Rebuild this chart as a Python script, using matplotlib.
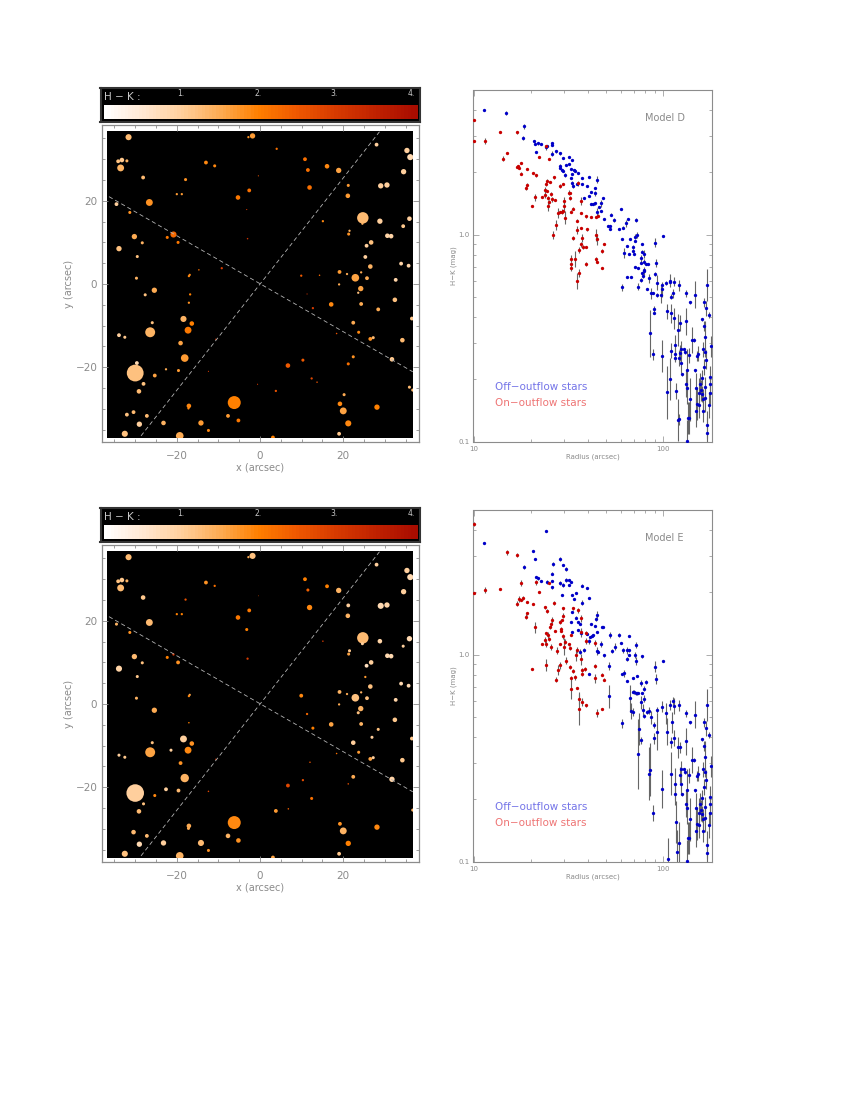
import numpy as np
import matplotlib
matplotlib.use("Agg")
import matplotlib.pyplot as plt
from matplotlib.colors import LinearSegmentedColormap
from matplotlib.patches import Rectangle
from matplotlib.ticker import FixedLocator, NullFormatter, FixedFormatter

# ---- star map data (arcsec), brightness-radius index and H-K colour for both models
star_x = [-31.6,-1.8,-2.8,4.0,10.8,-34.1,-33.2,-32.0,-33.5,-13.0,
          -10.9,11.5,16.1,18.9,28.0,35.3,36.1,34.5,-28.1,-17.9,
          -0.4,-2.6,11.9,21.2,29.0,30.5,-20.0,-18.8,-5.3,21.1,
          -34.5,-26.6,-3.2,-31.3,24.7,24.6,28.8,35.9,34.4,15.1,
          -20.8,-22.3,-19.7,-30.2,-28.3,-33.9,-29.5,-3.0,21.5,21.3,
          30.6,31.5,26.7,25.6,25.3,26.5,33.9,35.7,-9.2,-14.7,
          -29.7,-16.9,-17.1,-25.4,-27.6,-16.8,-17.1,-18.4,-25.9,-16.4,
          -17.3,-26.4,-33.9,-32.5,-21.4,-19.1,-10.6,-18.1,-29.6,-22.6,
          -19.6,-30.0,-25.3,-28.0,-29.1,-12.4,-17.1,-17.2,-6.2,-30.4,
          -32.0,-27.2,-7.7,-5.2,-29.0,-23.2,-14.2,-12.4,-32.5,-19.3,
          3.1,19.0,21.2,20.0,19.2,28.1,20.2,3.8,6.8,-0.6,
          6.7,10.3,12.4,13.7,21.2,22.4,31.7,35.9,36.7,26.5,
          27.2,34.2,23.7,22.4,36.5,28.4,26.9,32.4,24.3,17.1,
          24.2,23.6,22.9,19.0,19.1,20.9,24.3,25.7,32.6,9.9,
          14.3,12.7,11.3,18.4,12.0]
star_y = [35.3,35.6,35.3,32.5,30.0,29.5,29.8,29.6,27.9,29.2,
          28.4,27.4,28.3,27.3,33.5,32.1,30.5,27.0,25.6,25.1,
          26.0,22.5,23.2,23.7,23.6,23.8,21.6,21.6,20.8,21.2,
          19.2,19.6,17.9,17.2,15.9,14.5,15.1,15.7,13.9,15.1,
          11.9,11.2,10.0,11.4,9.9,8.5,6.6,10.9,12.8,12.0,
          11.6,11.5,10.0,9.2,6.5,4.2,4.9,4.4,3.8,3.4,
          1.4,2.2,1.9,-1.5,-2.6,-2.5,-4.5,-8.4,-9.3,-9.5,
          -11.1,-11.6,-12.3,-12.8,-11.1,-14.2,-13.3,-17.8,-19.0,-20.5,
          -20.8,-21.4,-22.0,-24.0,-25.8,-21.0,-29.3,-29.9,-28.5,-30.8,
          -31.4,-31.7,-31.7,-32.8,-33.7,-33.4,-33.4,-35.2,-36.0,-36.5,
          -36.9,-36.0,-33.5,-30.5,-28.8,-29.6,-26.6,-25.7,-25.2,-24.1,
          -19.6,-18.3,-22.7,-23.6,-19.2,-17.5,-18.1,-24.8,-25.5,-13.2,
          -12.9,-13.5,-11.6,-9.3,-8.3,-6.1,-8.0,-3.8,-4.8,-4.9,
          -1.1,-2.1,1.5,-0.1,2.9,2.4,2.8,1.4,1.0,2.0,
          2.1,-5.8,-2.4,-11.9,-14.0]
star_flux_d = [8,7,3,3,5,5,6,4,9,5,
               4,5,6,7,5,7,8,7,5,4,
               1.5,5,6,4,7,7,3,3,6,6,
               5,9,1.5,4,15,3,7,6,5,3,
               8,4,4,7,4,7,4,2,3,4,
               6,6,6,5,5,6,5,5,3,2,
               4,3,3,7,4,3,3,8,4,6,
               9,13,5,4,0,6,2,10,5,3,
               4,22,5,5,6,1.5,6,3,17,5,
               5,5,5,5,7,6,7,4,8,10,
               5,5,8,9,6,7,4,3,0,1.5,
               6,4,3,2,4,4,6,4,4,5,
               4,6,4,5,5,5,0,6,5,6,
               7,3,10,3,5,3,3,5,5,3,
               2,3,1.5,2,0]
star_hk_d = [1.3,1.7,1.8,2.2,2.2,1.2,1.1,1.4,1.4,1.9,
             1.9,2.2,1.9,1.6,1.0,1.0,0.8,1.0,1.3,1.8,
             2.6,2.2,2.2,1.7,1.0,1.0,1.7,1.7,2.1,1.7,
             1.0,1.8,3.0,1.8,1.3,1.4,1.0,1.0,1.1,1.9,
             2.3,2.1,2.1,1.5,1.4,1.2,1.2,3.2,1.4,1.8,
             0.9,0.9,1.2,1.0,1.0,1.4,0.9,0.9,3.0,2.2,
             1.4,1.9,1.9,1.5,1.2,2.0,1.8,1.4,1.2,2.0,
             2.1,1.4,1.0,1.1,1.0,1.6,3.0,1.7,0.8,1.5,
             1.7,1.2,1.6,1.2,1.3,3.0,1.9,1.9,2.0,1.3,
             1.2,1.3,1.7,2.1,1.0,1.4,1.7,1.9,1.2,1.5,
             2.0,1.1,1.9,1.6,1.9,2.0,1.5,2.6,2.4,3.0,
             2.5,2.5,2.8,2.6,2.2,1.8,1.1,1.3,1.3,1.8,
             1.3,1.3,1.9,1.5,1.1,1.5,1.0,1.2,1.5,1.9,
             1.6,1.2,1.6,1.5,1.7,1.5,1.5,1.5,0.9,2.5,
             2.3,3.0,3.2,2.6,2.6]
star_flux_e = [8,8,3,0,5,5,6,4,9,5,
               3,4,5,7,5,7,8,7,6,3,
               1,5,7,5,8,7,3,3,6,6,
               4,9,4,4,15,4,6,7,4,2,
               3,4,5,7,4,8,4,3,4,4,
               6,6,6,5,3,6,5,5,0,0,
               4,3,3,7,0,0,2,9,4,6,
               9,13,4,4,4,5,2,11,0,5,
               5,23,4,4,6,2,6,4,17,6,
               0,5,6,6,7,7,8,4,8,10,
               5,5,7,9,5,7,0,5,2,0,
               5,3,4,0,2,5,7,0,4,5,
               4,6,4,6,5,4,4,6,5,6,
               7,4,10,3,5,3,3,5,5,5,
               0,4,3,2,2]
star_hk_e = [1.3,1.2,1.5,2.2,2.0,1.2,1.1,1.4,1.3,1.8,
             2.2,2.4,2.0,1.4,1.0,1.0,0.8,1.0,1.1,2.6,
             2.6,2.1,1.9,1.0,0.8,0.9,2.0,2.0,2.1,1.4,
             1.4,1.3,2.0,1.8,1.3,1.0,0.9,0.8,1.0,3.0,
             3.2,2.0,1.8,1.3,1.2,0.9,1.1,3.0,1.1,1.6,
             0.8,0.8,1.0,0.7,1.7,1.2,0.8,0.8,3.0,2.2,
             1.4,1.6,1.9,1.5,1.2,2.0,2.0,1.0,1.2,1.8,
             1.9,1.6,1.0,1.1,1.0,1.8,3.0,1.4,0.8,1.0,
             1.3,1.0,1.9,1.2,1.3,2.8,1.5,1.5,1.9,1.3,
             1.2,1.3,1.4,1.8,0.8,1.0,1.3,1.8,1.2,1.4,
             1.6,1.1,2.0,1.4,1.8,1.9,1.5,1.7,2.4,3.0,
             2.8,2.7,2.2,2.6,2.6,1.5,0.9,1.3,1.4,1.6,
             1.0,1.1,1.7,1.0,1.1,1.2,1.0,1.1,1.4,1.6,
             1.4,1.2,1.2,1.5,1.4,1.5,1.4,1.2,0.9,1.9,
             2.3,2.0,2.3,2.2,2.6]

outflow_a_x = [-36.3, 36.7]
outflow_a_y = [21.0, -21.1]
outflow_b_x = [-28.6, 28.7]
outflow_b_y = [-36.5, 36.6]

# ---- radial profile data, log10(radius), log10(H-K), error in dex
far_logr = [2.117,2.139,2.167,2.232,2.084,2.212,2.226,2.240,2.202,2.119,
            2.095,2.149,2.160,2.216,2.219,2.109,2.116,2.133,2.253,2.211,
            2.184,2.179,2.216,2.098,2.123,2.167,2.119,2.123,2.174,2.193,
            2.246,2.202,2.246,2.221,2.196,2.188,2.140,2.205,2.246,2.221,
            2.207,2.175,2.188,2.130,2.135,2.172,2.209,2.126,2.230,2.230,
            2.242,2.218,2.225]
far_logh = [-.284,-.327,-.290,-.245,-.245,-.327,-.356,-.388,-.409,-.419,
            -.551,-.509,-.509,-.441,-.493,-.554,-.567,-.583,-.538,-.554,
            -.574,-.586,-.638,-.675,-.654,-.656,-.719,-.743,-.743,-.719,
            -.719,-.690,-.686,-.738,-.751,-.767,-.796,-.770,-.767,-.791,
            -.796,-.820,-.822,-.886,-.886,-.852,-.852,-.999,-.918,-.959,
            -.823,-.567,-.603]
far_err = [.016,.008,.064,.077,.026,.021,.037,.016,.008,.064,
           .038,.064,.008,.026,.077,.008,.008,.038,.051,.037,
           .038,.026,.038,.008,.102,.008,.064,.077,.077,.051,
           .038,.038,.051,.051,.051,.077,.102,.038,.051,.064,
           .051,.077,.064,.077,.077,.077,.051,.102,.064,.077,
           .064,.026,.046]

off_d_logr = [1.055,1.171,1.266,1.259,1.317,1.322,1.340,1.354,1.382,1.385,
              1.412,1.415,1.329,1.415,1.436,1.457,1.471,1.503,1.520,1.489,
              1.505,1.457,1.454,1.466,1.471,1.484,1.512,1.529,1.536,1.550,
              1.520,1.515,1.571,1.610,1.652,1.519,1.522,1.547,1.570,1.596,
              1.642,1.617,1.642,1.610,1.682,1.582,1.619,1.628,1.642,1.670,
              1.659,1.673,1.649,1.775,1.726,1.687,1.742,1.814,1.856,1.710,
              1.721,1.719,1.765,1.789,1.805,1.859,1.852,1.780,1.826,1.849,
              1.842,1.808,1.889,1.958,2.000,1.842,1.847,1.794,1.819,1.887,
              1.900,1.884,1.898,1.909,1.919,1.961,1.880,1.851,1.866,1.896,
              1.889,1.958,1.782,1.808,1.830,1.868,1.884,1.891,1.898,1.924,
              1.912,1.933,1.944,1.968,1.966,1.989,1.995,1.995,2.014,2.035,
              2.037,2.040,2.049,2.056,1.952,1.951,2.021,2.042,2.054,1.931,
              1.947,1.991,2.086,2.077,2.063,2.042,2.088,2.060,2.063,2.082,
              2.091,2.035,2.021,2.067,2.075,2.081]
off_d_logh = [.601,.586,.524,.469,.453,.437,.441,.437,.422,.429,
              .433,.441,.398,.392,.403,.393,.372,.374,.359,.337,
              .340,.332,.321,.313,.306,.288,.317,.314,.309,.297,
              .293,.272,.274,.277,.266,.248,.235,.247,.247,.235,
              .224,.208,.200,.188,.177,.176,.148,.148,.151,.151,
              .132,.114,.110,.122,.097,.076,.069,.076,.071,.043,
              .043,.026,.027,.034,.055,-.001,-.009,-.022,-.022,-.030,
              -.058,-.055,-.045,-.038,-.006,-.077,-.092,-.089,-.093,-.082,
              -.092,-.114,-.130,-.142,-.142,-.137,-.137,-.156,-.163,-.171,
              -.187,-.190,-.255,-.205,-.205,-.251,-.219,-.200,-.176,-.211,
              -.263,-.284,-.280,-.232,-.292,-.290,-.264,-.242,-.232,-.222,
              -.230,-.300,-.284,-.227,-.361,-.377,-.371,-.380,-.404,-.477,
              -.578,-.586,-.427,-.462,-.532,-.561,-.572,-.578,-.595,-.596,
              -.619,-.698,-.762,-.754,-.894,-.891]
off_d_err = [.002,.01,.013,.01,.003,.003,.006,.003,.013,.006,
             .006,.005,.003,.01,.008,.006,.005,.005,.005,.005,
             .005,.008,.006,.005,.003,.01,.003,.005,.006,.003,
             .003,.005,.006,.003,.016,.01,.008,.005,.003,.003,
             .003,.005,.013,.005,.003,.005,.003,.003,.006,.019,
             .003,.003,.019,.003,.006,.006,.01,.005,.01,.006,
             .006,.005,.005,.008,.016,.013,.013,.005,.005,.005,
             .01,.005,.006,.023,.005,.006,.005,.024,.005,.006,
             .019,.016,.013,.005,.005,.019,.005,.005,.005,.006,
             .006,.01,.016,.005,.005,.016,.008,.008,.021,.021,
             .005,.026,.005,.037,.008,.042,.037,.008,.01,.03,
             .008,.013,.021,.021,.016,.008,.038,.046,.051,.115,
             .026,.077,.037,.077,.046,.037,.038,.037,.013,.038,
             .051,.102,.128,.038,.102,.026]

on_d_logr = [1.004,1.004,1.059,1.141,1.231,1.157,1.178,1.347,1.399,1.382,
             1.250,1.234,1.231,1.239,1.280,1.250,1.313,1.331,1.278,1.283,
             1.308,1.322,1.361,1.375,1.378,1.385,1.408,1.394,1.412,1.391,
             1.399,1.427,1.382,1.389,1.405,1.422,1.457,1.473,1.501,1.508,
             1.510,1.477,1.477,1.447,1.455,1.466,1.473,1.482,1.513,1.526,
             1.564,1.550,1.566,1.591,1.621,1.643,1.657,1.545,1.434,1.417,
             1.543,1.566,1.596,1.643,1.650,1.524,1.571,1.568,1.575,1.594,
             1.686,1.677,1.556,1.512,1.512,1.533,1.643,1.650,1.592,1.512,
             1.675,1.557,1.545]
on_d_logh = [.554,.453,.453,.496,.495,.367,.395,.374,.364,.427,
             .346,.332,.325,.321,.319,.295,.297,.287,.226,.242,
             .140,.180,.180,.192,.216,.210,.197,.179,.171,.140,
             .160,.169,.243,.261,.256,.277,.237,.243,.203,.200,
             .179,.163,.140,.106,.110,.111,.114,.082,.111,.126,
             .164,.248,.103,.089,.087,.087,.092,.068,.047,.000,
             .023,.032,.026,-.001,-.022,-.016,-.016,-.047,-.058,-.058,
             -.043,-.077,-.074,-.116,-.143,-.116,-.119,-.130,-.142,-.163,
             -.161,-.184,-.224]
on_d_err = [.002,.002,.016,.003,.008,.013,.003,.003,.003,.008,
            .003,.006,.005,.005,.003,.006,.003,.008,.011,.006,
            .003,.016,.003,.016,.013,.005,.008,.01,.013,.024,
            .01,.003,.01,.006,.003,.008,.01,.003,.013,.005,
            .01,.019,.019,.024,.005,.013,.006,.032,.008,.006,
            .019,.013,.005,.006,.003,.005,.008,.006,.024,.019,
            .019,.003,.008,.029,.026,.01,.019,.013,.01,.005,
            .005,.01,.016,.016,.013,.039,.013,.003,.01,.013,
            .003,.019,.04]

off_e_logr = [1.055,1.380,1.315,1.322,1.266,1.455,1.471,1.489,1.417,1.412,
              1.329,1.340,1.354,1.389,1.415,1.457,1.471,1.415,1.485,1.503,
              1.512,1.505,1.571,1.598,1.540,1.520,1.464,1.529,1.610,1.571,
              1.652,1.643,1.520,1.540,1.549,1.513,1.563,1.617,1.640,1.675,
              1.682,1.550,1.519,1.599,1.615,1.624,1.631,1.649,1.564,1.721,
              1.765,1.817,1.670,1.610,1.856,1.777,1.743,1.729,1.787,1.807,
              1.819,1.580,1.563,1.649,1.656,1.686,1.821,1.851,1.889,2.000,
              1.858,1.810,1.714,1.958,1.793,1.780,1.610,1.808,1.840,1.861,
              1.963,1.910,1.884,1.844,1.854,1.898,1.865,1.887,1.712,1.826,
              1.838,1.861,1.880,1.891,1.896,1.900,1.916,1.924,1.933,1.830,
              1.840,1.782,1.870,1.884,1.866,1.951,1.968,1.952,1.968,1.995,
              2.035,2.049,2.054,2.016,2.046,2.017,2.040,2.054,2.077,2.088,
              1.931,1.926,1.991,1.947,2.042,2.063,2.060,2.088,2.095,2.067,
              2.081,2.072,2.023]
off_e_logh = [.540,.599,.503,.461,.422,.462,.433,.414,.440,.392,
              .375,.369,.358,.351,.356,.346,.335,.325,.359,.359,
              .350,.335,.334,.322,.300,.287,.287,.267,.272,.251,
              .193,.174,.206,.179,.160,.158,.147,.147,.139,.135,
              .135,.119,.108,.098,.087,.092,.095,.111,.103,.095,
              .095,.092,.052,.064,.047,.058,.039,.018,.021,.021,
              .021,.024,.015,.018,.015,-.003,-.001,-.001,-.008,-.029,
              -.029,-.022,-.053,-.058,-.090,-.093,-.092,-.127,-.111,-.105,
              -.118,-.132,-.137,-.179,-.187,-.164,-.187,-.187,-.200,-.211,
              -.179,-.187,-.230,-.267,-.213,-.296,-.276,-.271,-.303,-.272,
              -.277,-.332,-.359,-.414,-.479,-.340,-.372,-.404,-.267,-.251,
              -.243,-.224,-.247,-.284,-.327,-.372,-.424,-.401,-.448,-.448,
              -.557,-.574,-.649,-.764,-.574,-.625,-.673,-.582,-.625,-.807,
              -.912,-.951,-.986]
off_e_err = [.002,.002,.002,.003,.01,.01,.003,.008,.01,.006,
             .005,.006,.003,.008,.005,.01,.01,.008,.01,.005,
             .005,.005,.008,.003,.003,.005,.003,.003,.005,.013,
             .016,.01,.003,.006,.003,.006,.005,.005,.003,.003,
             .003,.003,.005,.005,.003,.005,.003,.003,.019,.013,
             .01,.003,.016,.013,.016,.003,.016,.01,.013,.016,
             .006,.01,.013,.019,.006,.006,.005,.013,.006,.005,
             .019,.01,.019,.026,.016,.005,.005,.005,.005,.005,
             .023,.008,.016,.01,.006,.013,.005,.005,.056,.064,
             .008,.008,.03,.03,.016,.01,.01,.016,.03,.037,
             .021,.021,.077,.016,.168,.016,.09,.026,.016,.026,
             .026,.021,.038,.051,.051,.064,.026,.038,.051,.026,
             .128,.128,.09,.038,.102,.077,.051,.038,.051,.102,
             .102,.102,.102]

on_e_logr = [1.004,1.004,1.059,1.141,1.178,1.229,1.252,1.329,1.347,1.398,
             1.239,1.250,1.259,1.231,1.280,1.313,1.375,1.389,1.422,1.470,
             1.526,1.552,1.276,1.283,1.322,1.308,1.473,1.466,1.415,1.406,
             1.403,1.384,1.394,1.396,1.427,1.455,1.459,1.462,1.512,1.473,
             1.482,1.477,1.454,1.501,1.510,1.361,1.375,1.380,1.410,1.441,
             1.541,1.545,1.564,1.566,1.594,1.591,1.640,1.485,1.384,1.454,
             1.447,1.434,1.510,1.524,1.515,1.533,1.568,1.570,1.571,1.585,
             1.642,1.642,1.677,1.686,1.512,1.543,1.556,1.557,1.573,1.592,
             1.649,1.675]
on_e_logh = [.633,.297,.313,.317,.495,.480,.346,.350,.305,.346,
             .269,.264,.272,.247,.256,.243,.229,.211,.251,.224,
             .224,.214,.184,.200,.132,-.069,.188,.169,.168,.147,
             .132,.103,.095,.076,.114,.156,.124,.114,.095,.089,
             .063,.039,.052,.050,.034,.052,.071,.052,.037,.019,
             -.003,.023,.176,.111,.103,.066,.056,-.029,-.050,-.052,
             -.074,-.121,-.059,-.077,-.114,-.109,-.022,-.074,-.093,-.071,
             -.056,-.114,-.096,-.121,-.168,-.160,-.213,-.261,-.229,-.245,
             -.282,-.261]
on_e_err = [.01,.002,.016,.003,.013,.01,.013,.013,.003,.006,
            .013,.006,.01,.01,.003,.003,.008,.01,.01,.006,
            .008,.013,.011,.006,.026,.003,.013,.005,.013,.013,
            .006,.008,.013,.01,.003,.01,.008,.005,.003,.013,
            .013,.04,.006,.006,.01,.003,.013,.013,.013,.016,
            .026,.013,.016,.016,.01,.013,.013,.016,.029,.016,
            .026,.013,.01,.01,.013,.013,.026,.01,.01,.01,
            .01,.023,.006,.006,.048,.005,.024,.08,.019,.006,
            .019,.003]

cbar_ticks = [1, 2, 3, 4]
cbar_labels = ["1.", "2.", "3.", "4."]
model_names = ["Model D", "Model E"]

# ---- style
W, H = 850, 1100
GREY = "#8c8c8c"
TXT = "#8a8a8a"
hk_cmap = LinearSegmentedColormap.from_list("hk", [
    (0.00, "#ffffff"), (0.12, "#ffe8d2"), (0.245, "#ffcf9c"), (0.37, "#fdab52"),
    (0.49, "#ff8000"), (0.61, "#f05a00"), (0.735, "#d83c00"), (0.86, "#c22400"),
    (1.00, "#a80c00")], N=256)
HK_MAX = 4.08

fig = plt.figure(figsize=(W/100, H/100), dpi=100, facecolor="white")
plt.rcParams["font.family"] = "DejaVu Sans"


def axes_px(left, top, right, bottom, **kw):
    return fig.add_axes([left/W, 1-bottom/H, (right-left)/W, (bottom-top)/H], **kw)


def style_spines(ax, lw=0.9):
    for s in ax.spines.values():
        s.set_color(GREY)
        s.set_linewidth(lw)


def star_panel(dy, flux, hk):
    # colour bar box
    bx = axes_px(100.5, 87.8+dy, 420.2, 121.8+dy)
    bx.set_facecolor("black")
    bx.set_xticks([]); bx.set_yticks([])
    for s in bx.spines.values():
        s.set_color("#333333"); s.set_linewidth(1.5)
    bx.set_xlim(100, 420.7); bx.set_ylim(122.3, 87.3)
    bx.text(104, 96.5, "H \u2212 K :", color="#c8c8c8", fontsize=7.5, va="center", ha="left")

    gx = axes_px(104, 104.7+dy, 417.3, 119.3+dy)
    levels = np.linspace(0, HK_MAX, 90).reshape(1, -1)
    gx.imshow(levels, aspect="auto", cmap=hk_cmap, vmin=0, vmax=HK_MAX,
              extent=[0, HK_MAX, 0, 1], interpolation="nearest")
    gx.set_xticks([]); gx.set_yticks([])
    for s in gx.spines.values():
        s.set_visible(False)
    for t, lab in zip(cbar_ticks, cbar_labels):
        gx.annotate(lab, xy=(t, 1), xycoords=("data", "axes fraction"),
                    xytext=(0, 8.2), textcoords="offset points",
                    color="#c8c8c8", fontsize=5.5, ha="center", va="center")

    # map
    ax = axes_px(101.5, 125.3+dy, 419, 442.3+dy)
    ax.set_xlim(-38.1, 38.2); ax.set_ylim(-38.05, 38.15)
    rect = Rectangle((-36.8, -36.9), 73.6, 73.7, facecolor="black", edgecolor="none", zorder=1)
    ax.add_patch(rect)
    xs = np.array(star_x); ys = np.array(star_y)
    fl = np.array(flux, dtype=float); cs = np.array(hk)
    keep = fl > 0
    sc = ax.scatter(xs[keep], ys[keep], s=(0.55*fl[keep])**2, c=cs[keep], cmap=hk_cmap,
                    vmin=0, vmax=HK_MAX, linewidths=0, zorder=2)
    sc.set_clip_path(rect)
    for lx, ly in ((outflow_a_x, outflow_a_y), (outflow_b_x, outflow_b_y)):
        ax.plot(lx, ly, color="#b4b4b4", lw=0.6, dashes=(5, 3.5), zorder=3)
    ax.xaxis.set_major_locator(FixedLocator([-20, 0, 20]))
    ax.yaxis.set_major_locator(FixedLocator([-20, 0, 20]))
    minor = [-35, -30, -25, -15, -10, -5, 5, 10, 15, 25, 30, 35]
    ax.xaxis.set_minor_locator(FixedLocator(minor))
    ax.yaxis.set_minor_locator(FixedLocator(minor))
    ax.tick_params(which="major", direction="in", length=4.2, width=0.6, color=GREY,
                   top=True, right=True, labelsize=7.5, labelcolor=TXT)
    ax.tick_params(which="minor", direction="in", length=2.2, width=0.6, color=GREY,
                   top=True, right=True)
    ax.tick_params(axis="x", which="major", pad=6)
    ax.tick_params(axis="y", which="major", pad=3)
    ax.set_xlabel("x (arcsec)", fontsize=7, color=TXT, labelpad=1.5)
    ax.set_ylabel("y (arcsec)", fontsize=7, color=TXT, labelpad=1)
    style_spines(ax)


def profile_panel(dy, name, off, on):
    ax = axes_px(473.5, 90+dy, 712.3, 441.7+dy)
    ax.set_xscale("log"); ax.set_yscale("log")
    ax.set_xlim(10, 181); ax.set_ylim(0.1, 5.0)
    for (lr, lh, er), col in ((off, "#0000c8"), (on, "#c80000")):
        lr = np.array(lr); lh = np.array(lh); er = np.array(er)
        r = 10**lr; h = 10**lh
        lo = h - 10**(lh-er); hi = 10**(lh+er) - h
        ax.errorbar(r, h, yerr=[lo, hi], fmt="none", ecolor="#666666", elinewidth=0.8,
                    capsize=0, zorder=2)
        ax.plot(r, h, ls="none", marker="o", ms=2.4, mfc=col, mec=col, mew=0, zorder=3)
    ax.xaxis.set_major_locator(FixedLocator([10, 100]))
    ax.xaxis.set_major_formatter(FixedFormatter(["10", "100"]))
    ax.xaxis.set_minor_locator(FixedLocator([20, 30, 40, 50, 60, 70, 80, 90]))
    ax.xaxis.set_minor_formatter(NullFormatter())
    ax.yaxis.set_major_locator(FixedLocator([0.1, 1.0]))
    ax.yaxis.set_major_formatter(FixedFormatter(["0.1", "1.0"]))
    ax.yaxis.set_minor_locator(FixedLocator([0.2, 0.3, 0.4, 0.5, 0.6, 0.7, 0.8, 0.9, 2, 3, 4]))
    ax.yaxis.set_minor_formatter(NullFormatter())
    ax.tick_params(which="major", direction="in", length=4.5, width=0.5, color=GREY,
                   top=True, right=True, labelsize=5, labelcolor=TXT, pad=3)
    ax.tick_params(which="minor", direction="in", length=2.4, width=0.5, color=GREY,
                   top=True, right=True)
    ax.set_xlabel("Radius (arcsec)", fontsize=5, color=TXT, labelpad=1.5)
    ax.set_ylabel("H\u2212K (mag)", fontsize=5, color=TXT, labelpad=1)
    style_spines(ax, 0.8)
    t = ax.transAxes
    ax.text(0.720, 0.9205, name, transform=t, fontsize=7, color=TXT, va="center", ha="left")
    ax.text(0.088, 0.1565, "Off\u2212outflow stars", transform=t, fontsize=7.5,
            color="#7474e8", va="center", ha="left")
    ax.text(0.088, 0.1105, "On\u2212outflow stars", transform=t, fontsize=7.5,
            color="#ee7474", va="center", ha="left")


star_panel(0, star_flux_d, star_hk_d)
star_panel(420, star_flux_e, star_hk_e)
profile_panel(0, model_names[0],
              (off_d_logr+far_logr, off_d_logh+far_logh, off_d_err+far_err),
              (on_d_logr, on_d_logh, on_d_err))
profile_panel(420, model_names[1],
              (off_e_logr+far_logr, off_e_logh+far_logh, off_e_err+far_err),
              (on_e_logr, on_e_logh, on_e_err))

fig.savefig("out.png", dpi=100, facecolor="white")
